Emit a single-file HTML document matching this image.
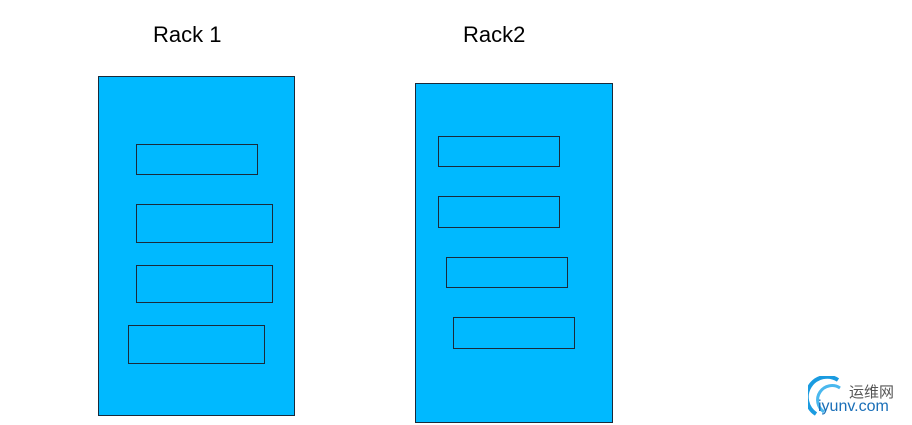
<!DOCTYPE html>
<html><head><style>
body{margin:0;width:912px;height:425px;background:#fff;overflow:hidden;position:relative;font-family:"Liberation Sans","Noto Sans CJK SC",sans-serif}
.r{position:absolute;background:#00B9FF;border:1px solid #1a2a3a;box-sizing:border-box}
.t{position:absolute;font-size:22px;color:#000}
</style></head><body>
<div class="t" style="left:153px;top:22px">Rack 1</div>
<div class="t" style="left:463px;top:22px">Rack2</div>
<div class="r" style="left:98px;top:76px;width:197px;height:340px"></div>
<div class="r" style="left:136px;top:144px;width:122px;height:31px"></div>
<div class="r" style="left:136px;top:204px;width:137px;height:39px"></div>
<div class="r" style="left:136px;top:265px;width:137px;height:38px"></div>
<div class="r" style="left:128px;top:325px;width:137px;height:39px"></div>
<div class="r" style="left:415px;top:83px;width:198px;height:340px"></div>
<div class="r" style="left:438px;top:136px;width:122px;height:31px"></div>
<div class="r" style="left:438px;top:196px;width:122px;height:32px"></div>
<div class="r" style="left:446px;top:257px;width:122px;height:31px"></div>
<div class="r" style="left:453px;top:317px;width:122px;height:32px"></div>
<svg style="position:absolute;left:808px;top:376px" width="40" height="45"><path d="M30 4 A20 20 0 0 0 8 38" stroke="#1a9be0" stroke-width="4" fill="none"/><path d="M32 12 A14 14 0 0 0 16 36" stroke="#4ab8ee" stroke-width="3" fill="none"/></svg>
<div style="position:absolute;left:849px;top:381px;font-size:15px;color:#555">运维网</div>
<div style="position:absolute;left:818px;top:398px;font-size:16px;color:#1a6fb8">iyunv.com</div>
</body></html>
